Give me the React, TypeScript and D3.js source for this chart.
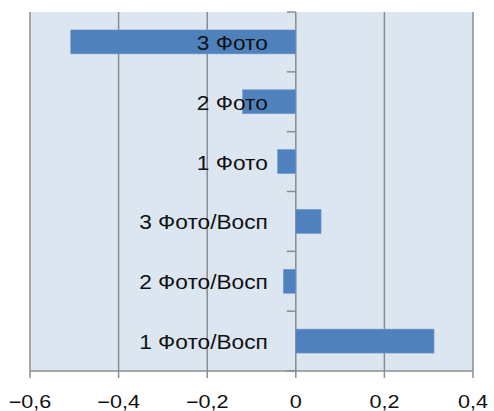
import React, { useEffect, useRef } from "react";
import * as d3 from "d3";

const categories = ["3 Фото", "2 Фото", "1 Фото", "3 Фото/Восп", "2 Фото/Восп", "1 Фото/Восп"];
const values = [-0.508, -0.12, -0.041, 0.057, -0.028, 0.312];
const xTicks = [-0.6, -0.4, -0.2, 0, 0.2, 0.4];
const xTickLabels = ["−0,6", "−0,4", "−0,2", "0", "0,2", "0,4"];

const W = 494;
const H = 411;
const M = { left: 30, right: 21, top: 12, bottom: 40 };

export default function App() {
  const ref = useRef<SVGSVGElement>(null);

  useEffect(() => {
    const svg = d3.select(ref.current);
    svg.selectAll("*").remove();

    const x = d3.scaleLinear().domain([-0.6, 0.4]).range([M.left, W - M.right]);
    const y = d3
      .scaleBand<string>()
      .domain(categories)
      .range([M.top, H - M.bottom])
      .paddingInner(0.6)
      .paddingOuter(0.3);
    const step = y.step();
    const y0 = M.top;
    const y1 = H - M.bottom;

    const grid = "#8c8c8c";

    svg
      .append("rect")
      .attr("x", x(-0.6))
      .attr("y", y0)
      .attr("width", x(0.4) - x(-0.6))
      .attr("height", y1 - y0)
      .attr("fill", "#dce6f1");

    // vertical gridlines
    svg
      .append("g")
      .selectAll("line")
      .data(xTicks)
      .join("line")
      .attr("x1", (d) => x(d))
      .attr("x2", (d) => x(d))
      .attr("y1", y0)
      .attr("y2", y1 + 7)
      .attr("stroke", grid)
      .attr("stroke-width", 1.5);

    // bottom axis line
    svg
      .append("line")
      .attr("x1", x(-0.6))
      .attr("x2", x(0.4))
      .attr("y1", y1)
      .attr("y2", y1)
      .attr("stroke", grid)
      .attr("stroke-width", 1.5);

    // bars
    svg
      .append("g")
      .selectAll("rect")
      .data(categories)
      .join("rect")
      .attr("x", (d, i) => x(Math.min(0, values[i])))
      .attr("width", (d, i) => Math.abs(x(values[i]) - x(0)))
      .attr("y", (d) => y(d)!)
      .attr("height", y.bandwidth())
      .attr("fill", "#4f81bd")
      .attr("stroke", "#6f97c9")
      .attr("stroke-width", 0.6);

    // category ticks on zero axis
    const bounds = d3.range(categories.length + 1).map((i) => y0 + i * step);
    svg
      .append("g")
      .selectAll("line")
      .data(bounds)
      .join("line")
      .attr("x1", x(0) - 9)
      .attr("x2", x(0))
      .attr("y1", (d) => d)
      .attr("y2", (d) => d)
      .attr("stroke", grid)
      .attr("stroke-width", 1.5);

    // category labels
    svg
      .append("g")
      .selectAll("text")
      .data(categories)
      .join("text")
      .attr("transform", (d) => `translate(${x(0) - 28},${y(d)! + y.bandwidth() / 2 + 8}) scale(1.08,1)`)
      .attr("text-anchor", "end")
      .attr("font-family", "Liberation Sans, Arial, sans-serif")
      .attr("font-size", 21)
      .attr("fill", "#111")
      .text((d) => d);

    // x tick labels
    svg
      .append("g")
      .selectAll("text")
      .data(xTicks)
      .join("text")
      .attr("transform", (d) => `translate(${x(d)},${y1 + 37}) scale(1.2,1)`)
      .attr("text-anchor", "middle")
      .attr("font-family", "Liberation Sans, Arial, sans-serif")
      .attr("font-size", 18)
      .attr("fill", "#111")
      .text((d, i) => xTickLabels[i]);
  }, []);

  return (
    <div style={{ position: "fixed", left: 0, top: 0 }}>
      <svg ref={ref} width={W} height={H} style={{ display: "block", background: "#fff" }} />
    </div>
  );
}
